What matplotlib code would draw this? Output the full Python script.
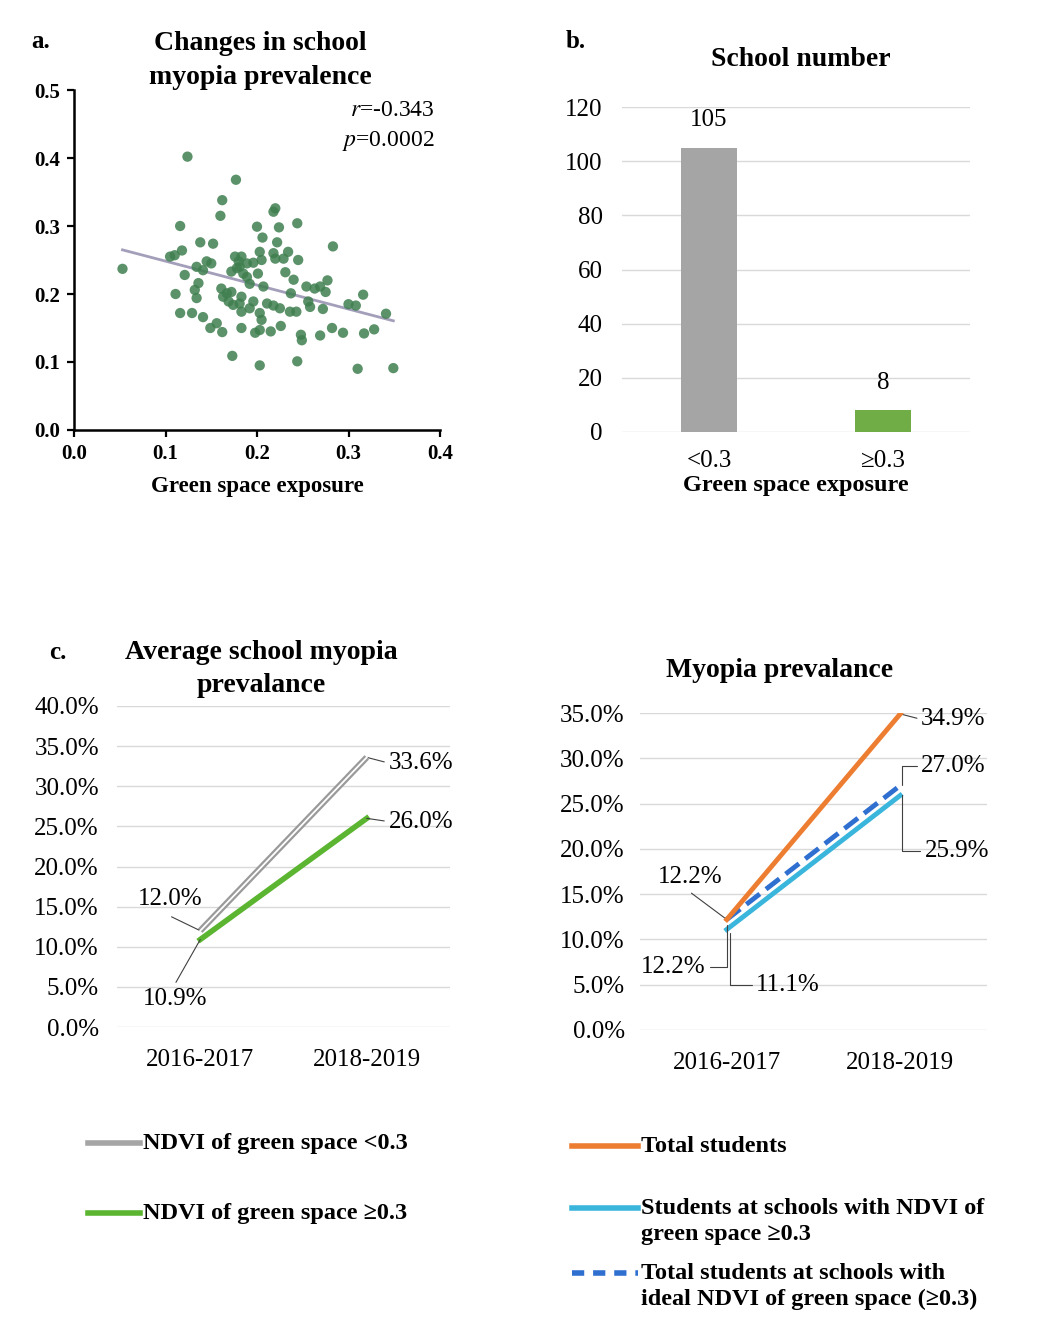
import numpy as np
import matplotlib
matplotlib.use('Agg')
import matplotlib.pyplot as plt
from matplotlib.lines import Line2D
from matplotlib.ticker import FuncFormatter

plt.rcParams['font.family'] = ['Liberation Serif', 'DejaVu Serif']
plt.rcParams['mathtext.fontset'] = 'stix'

# ---- data ----
# panel a: green space exposure vs change in school myopia prevalence
green = [0.124, 0.177, 0.162, 0.160, 0.116, 0.200, 0.138, 0.152, 0.118, 0.110,
         0.105, 0.053, 0.121, 0.134, 0.145, 0.150, 0.141, 0.176, 0.180, 0.181,
         0.172, 0.178, 0.185, 0.196, 0.192, 0.111, 0.136, 0.132, 0.134, 0.161,
         0.167, 0.172, 0.163, 0.169, 0.183, 0.181, 0.116, 0.129, 0.141, 0.156,
         0.149, 0.162, 0.183, 0.183, 0.198, 0.173, 0.203, 0.220, 0.218, 0.224,
         0.244, 0.206, 0.222, 0.283, 0.203, 0.218, 0.234, 0.229, 0.245, 0.205,
         0.183, 0.201, 0.189, 0.231, 0.240, 0.277, 0.254, 0.263, 0.269, 0.275,
         0.207, 0.237, 0.316, 0.196, 0.211, 0.218, 0.225, 0.236, 0.243, 0.256,
         0.258, 0.272, 0.300, 0.308, 0.341, 0.203, 0.205, 0.203, 0.215, 0.226,
         0.248, 0.249, 0.269, 0.282, 0.294, 0.317, 0.328, 0.244, 0.310, 0.349,
         0.174, 0.192, 0.220, 0.189]
change = [0.402, 0.368, 0.338, 0.315, 0.300, 0.299, 0.276, 0.274, 0.264, 0.257,
          0.255, 0.237, 0.228, 0.240, 0.248, 0.245, 0.235, 0.255, 0.248, 0.240,
          0.233, 0.238, 0.230, 0.246, 0.215, 0.200, 0.216, 0.206, 0.194, 0.208,
          0.201, 0.203, 0.196, 0.189, 0.196, 0.186, 0.172, 0.172, 0.166, 0.157,
          0.150, 0.144, 0.174, 0.150, 0.143, 0.109, 0.095, 0.326, 0.321, 0.298,
          0.304, 0.283, 0.276, 0.270, 0.262, 0.260, 0.262, 0.252, 0.250, 0.250,
          0.255, 0.230, 0.225, 0.232, 0.221, 0.220, 0.211, 0.208, 0.211, 0.203,
          0.211, 0.201, 0.199, 0.189, 0.186, 0.183, 0.179, 0.174, 0.174, 0.189,
          0.181, 0.178, 0.185, 0.183, 0.171, 0.172, 0.162, 0.147, 0.145, 0.153,
          0.140, 0.132, 0.139, 0.150, 0.143, 0.142, 0.148, 0.101, 0.090, 0.091,
          0.184, 0.179, 0.252, 0.245]

# panel b: school number
groups = ['<0.3', '≥0.3']
schools = [105, 8]

# panel c: average school myopia prevalence (%)
years = ['2016-2017', '2018-2019']
avg_low = [12.0, 33.6]
avg_high = [10.9, 26.0]

# panel d: myopia prevalence (%)
total = [12.2, 34.9]
high_ndvi = [11.1, 25.9]
ideal_ndvi = [12.2, 27.0]

W, H = 1040, 1342
fig = plt.figure(figsize=(W / 100, H / 100), dpi=100)
fig.patch.set_facecolor('white')


def px_axes(x0, y0, x1, y1):
    # axes from pixel box (left, top, right, bottom)
    return fig.add_axes([x0 / W, 1 - y1 / H, (x1 - x0) / W, (y1 - y0) / H])


def fx(x):
    return x / W


def fy(y):
    return 1 - y / H


grid_c = '#d9d9d9'
lead = dict(arrowstyle='-', color='#404040', lw=0.8, shrinkA=1, shrinkB=0)
TITLE = 20
LAB = 18

# ---------------- a ----------------
ax = px_axes(74, 90, 440, 430)
ax.scatter(green, change, s=55, color='#3f7f4f', alpha=0.85, edgecolors='none', zorder=3)
k, b = np.polyfit(green, change, 1)
xs = np.array([min(green), max(green)])
ax.plot(xs, k * xs + b, color='#a39fba', lw=2, zorder=2)
ax.set_xlim(0, 0.4)
ax.set_ylim(0, 0.5)
ax.set_xticks([0, 0.1, 0.2, 0.3, 0.4])
ax.set_yticks([0, 0.1, 0.2, 0.3, 0.4, 0.5])
ax.xaxis.set_major_formatter(FuncFormatter(lambda v, p: f'{v:.1f}'))
ax.yaxis.set_major_formatter(FuncFormatter(lambda v, p: f'{v:.1f}'))
for s in ['top', 'right']:
    ax.spines[s].set_visible(False)
for s in ['left', 'bottom']:
    ax.spines[s].set_linewidth(1.8)
ax.tick_params(direction='out', length=5, width=1.6, labelsize=15, pad=5)
for lab in ax.get_xticklabels() + ax.get_yticklabels():
    lab.set_fontweight('bold')
ax.set_xlabel('Green space exposure', fontsize=16.5, fontweight='bold', labelpad=9)
ax.text(0.985, 0.94, r'$\it{r}$=-0.343', transform=ax.transAxes, ha='right', va='center', fontsize=17)
ax.text(0.985, 0.85, r'$\it{p}$=0.0002', transform=ax.transAxes, ha='right', va='center', fontsize=17)
fig.text(fx(260), fy(43), 'Changes in school', ha='center', va='center', fontsize=TITLE, fontweight='bold')
fig.text(fx(260), fy(78), 'myopia prevalence', ha='center', va='center', fontsize=TITLE, fontweight='bold')
fig.text(fx(31), fy(42), 'a.', ha='left', va='center', fontsize=18, fontweight='bold')

# ---------------- b ----------------
ax = px_axes(622, 107, 970, 432)
xb = np.arange(len(groups))
ax.bar(xb, schools, width=0.32, color=['#a5a5a5', '#70ad47'], zorder=3)
for xi, v in zip(xb, schools):
    ax.text(xi, v + 6, str(v), ha='center', va='bottom', fontsize=LAB)
ax.set_xlim(-0.5, 1.5)
ax.set_ylim(0, 120)
ax.set_yticks(range(0, 121, 20))
ax.set_xticks(xb)
ax.set_xticklabels(groups)
ax.grid(axis='y', color=grid_c, lw=1, zorder=0)
for s in ax.spines.values():
    s.set_visible(False)
ax.tick_params(length=0, labelsize=LAB)
ax.tick_params(axis='x', pad=13)
ax.tick_params(axis='y', pad=14)
ax.set_xlabel('Green space exposure', fontsize=17.5, fontweight='bold', labelpad=2)
fig.text(fx(801), fy(60), 'School number', ha='center', va='center', fontsize=TITLE, fontweight='bold')
fig.text(fx(566), fy(42), 'b.', ha='left', va='center', fontsize=18, fontweight='bold')

# ---------------- c ----------------
ax = px_axes(117, 706, 450, 1027)
xc = np.arange(len(years))
ax.plot(xc, avg_low, color='#9a9a9a', lw=4.5, solid_capstyle='butt', zorder=3)
ax.plot(xc, avg_low, color='white', lw=1.3, zorder=4)
ax.plot(xc, avg_high, color='#5bb531', lw=4, zorder=3)
ax.set_xlim(-0.5, 1.5)
ax.set_ylim(0, 40)
ax.set_yticks(np.arange(0, 41, 5))
ax.yaxis.set_major_formatter(FuncFormatter(lambda v, p: f'{v:.1f}%'))
ax.set_xticks(xc)
ax.set_xticklabels(years)
ax.grid(axis='y', color=grid_c, lw=1, zorder=0)
for s in ax.spines.values():
    s.set_visible(False)
ax.tick_params(length=0, labelsize=LAB)
ax.tick_params(axis='x', pad=16)
ax.tick_params(axis='y', pad=13)
ax.annotate(f'{avg_low[1]:.1f}%', xy=(1, avg_low[1]), xytext=(1.13, 32.9), ha='left', va='center',
            fontsize=LAB, arrowprops=dict(lead, relpos=(0, 0.5)))
ax.annotate(f'{avg_high[1]:.1f}%', xy=(1, avg_high[1]), xytext=(1.13, 25.6), ha='left', va='center',
            fontsize=LAB, arrowprops=dict(lead, relpos=(0, 0.5)))
ax.annotate(f'{avg_low[0]:.1f}%', xy=(0, avg_low[0]), xytext=(-0.18, 16.0), ha='center', va='center',
            fontsize=LAB, arrowprops=dict(lead, relpos=(0.5, -0.3)))
ax.annotate(f'{avg_high[0]:.1f}%', xy=(0, avg_high[0]), xytext=(-0.15, 3.5), ha='center', va='center',
            fontsize=LAB, arrowprops=dict(lead, relpos=(0.5, 1.2)))
fig.text(fx(261), fy(653), 'Average school myopia', ha='center', va='center', fontsize=TITLE, fontweight='bold')
fig.text(fx(261), fy(685), 'prevalance', ha='center', va='center', fontsize=TITLE, fontweight='bold')
fig.text(fx(49), fy(653), 'c.', ha='left', va='center', fontsize=18, fontweight='bold')

# ---------------- d ----------------
ax = px_axes(640, 713, 987, 1030)
ax.plot(xc, high_ndvi, color='#3ab5dc', lw=3.5, zorder=3)
ax.plot(xc, ideal_ndvi, color='#2f6fd0', lw=3.5, ls=(0, (3.5, 1.6)), zorder=4)
ax.plot(xc, total, color='#ed7d31', lw=3.5, zorder=5)
ax.set_xlim(-0.5, 1.5)
ax.set_ylim(0, 35)
ax.set_yticks(np.arange(0, 36, 5))
ax.yaxis.set_major_formatter(FuncFormatter(lambda v, p: f'{v:.1f}%'))
ax.set_xticks(xc)
ax.set_xticklabels(years)
ax.grid(axis='y', color=grid_c, lw=1, zorder=0)
for s in ax.spines.values():
    s.set_visible(False)
ax.tick_params(length=0, labelsize=LAB)
ax.tick_params(axis='x', pad=16)
ax.tick_params(axis='y', pad=11)
corner = 'angle,angleA=0,angleB=90,rad=0'
ax.annotate(f'{total[1]:.1f}%', xy=(1, total[1]), xytext=(1.12, 34.3), ha='left', va='center',
            fontsize=LAB, arrowprops=dict(lead, relpos=(0, 0.5)))
ax.annotate(f'{ideal_ndvi[1]:.1f}%', xy=(1.01, ideal_ndvi[1]), xytext=(1.12, 29.2), ha='left', va='center',
            fontsize=LAB, arrowprops=dict(lead, relpos=(0, 0.5), connectionstyle=corner))
ax.annotate(f'{high_ndvi[1]:.1f}%', xy=(1.01, high_ndvi[1]), xytext=(1.14, 19.8), ha='left', va='center',
            fontsize=LAB, arrowprops=dict(lead, relpos=(0, 0.5), connectionstyle=corner))
ax.annotate(f'{total[0]:.1f}%', xy=(0, total[0]), xytext=(-0.21, 16.9), ha='center', va='center',
            fontsize=LAB, arrowprops=dict(lead, relpos=(0.5, -0.2)))
ax.annotate(f'{ideal_ndvi[0]:.1f}%', xy=(0, ideal_ndvi[0] - 0.6), xytext=(-0.31, 7.0), ha='center', va='center',
            fontsize=LAB, arrowprops=dict(lead, relpos=(1.05, 0.5), connectionstyle=corner))
ax.annotate(f'{high_ndvi[0]:.1f}%', xy=(0.02, high_ndvi[0] - 0.4), xytext=(0.17, 5.0), ha='left', va='center',
            fontsize=LAB, arrowprops=dict(lead, relpos=(0, 0.5), connectionstyle=corner))
fig.text(fx(780), fy(670), 'Myopia prevalance', ha='center', va='center', fontsize=TITLE, fontweight='bold')

# ---------------- legends ----------------
def legend_row(x0, x1, y, color, label, ls='-', lw=4):
    fig.add_artist(Line2D([fx(x0), fx(x1)], [fy(y), fy(y)], color=color, lw=lw, ls=ls))
    fig.text(fx(x1 + 3), fy(y - 10), label, ha='left', va='top', fontsize=17.5,
             fontweight='bold', linespacing=1.32)


legend_row(88, 140, 1143, '#a5a5a5', 'NDVI of green space <0.3')
legend_row(88, 140, 1213, '#5bb531', 'NDVI of green space ≥0.3')
legend_row(572, 638, 1146, '#ed7d31', 'Total students')
legend_row(572, 638, 1208, '#3ab5dc', 'Students at schools with NDVI of\ngreen space ≥0.3')
legend_row(572, 638, 1273, '#2f6fd0', 'Total students at schools with\nideal NDVI of green space (≥0.3)',
           ls=(0, (2.2, 1.6)))

fig.savefig('out.png', dpi=100, facecolor='white')
